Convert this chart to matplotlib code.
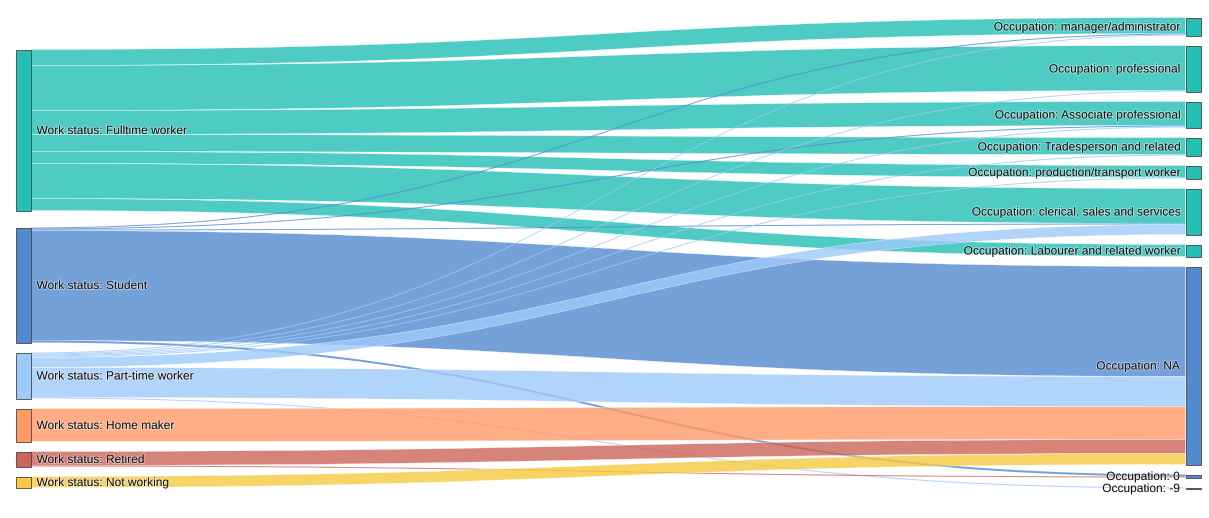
import matplotlib.pyplot as plt
from matplotlib.path import Path
from matplotlib.patches import PathPatch, Rectangle
import matplotlib.patheffects as pe

# nodes
left_nodes = ["Work status: Fulltime worker", "Work status: Student",
              "Work status: Part-time worker", "Work status: Home maker",
              "Work status: Retired", "Work status: Not working"]
right_nodes = ["Occupation: manager/administrator", "Occupation: professional",
               "Occupation: Associate professional", "Occupation: Tradesperson and related",
               "Occupation: production/transport worker", "Occupation: clerical, sales and services",
               "Occupation: Labourer and related worker", "Occupation: NA",
               "Occupation: 0", "Occupation: -9"]

# links: source index, target index, value
link_src = [0, 0, 0, 0, 0, 0, 0,
            1, 1, 1, 1, 1,
            2, 2, 2, 2, 2, 2, 2, 2,
            3,
            4, 4,
            5]
link_tgt = [0, 1, 2, 3, 4, 5, 6,
            0, 2, 5, 7, 8,
            0, 1, 2, 3, 4, 5, 7, 9,
            7,
            7, 8,
            7]
link_val = [16, 45, 24, 17, 12, 35, 12,
            1, 1, 1, 110, 2,
            1, 1, 1, 1, 1, 10, 30, 1,
            33,
            14, 1,
            11]

left_colors = ["#22c0b5", "#518acf", "#9ecafa", "#ff9966", "#cc6459", "#f5ca40"]
right_colors = ["#22c0b5"] * 7 + ["#518acf", "#518acf", "#5b7bb0"]

W, H = 1209, 518
node_w = 15
x_left, x_right = 15.5, 1185.5
top_right, bottom = 17.5, 488.5
pad = 10
left_top = 49.5
left_gaps = [17, 10, 10, 10, 10]

right_tot = [0] * len(right_nodes)
left_tot = [0] * len(left_nodes)
for s, t, v in zip(link_src, link_tgt, link_val):
    left_tot[s] += v
    right_tot[t] += v

ky = (bottom - top_right - pad * (len(right_nodes) - 1)) / sum(right_tot)

# node positions
right_y = []
y = top_right
for v in right_tot:
    right_y.append(y)
    y += v * ky + pad
left_y = []
y = left_top
for i, v in enumerate(left_tot):
    left_y.append(y)
    if i < len(left_gaps):
        y += v * ky + left_gaps[i]

fig = plt.figure(figsize=(W / 100, H / 100), dpi=100)
ax = fig.add_axes([0, 0, 1, 1])
ax.set_xlim(0, W)
ax.set_ylim(H, 0)
ax.axis("off")

# link offsets: at source sorted by target, at target sorted by source
order = sorted(range(len(link_val)), key=lambda k: (link_src[k], link_tgt[k]))
src_off = list(left_y)
s_pos = {}
for k in order:
    s_pos[k] = src_off[link_src[k]]
    src_off[link_src[k]] += link_val[k] * ky
order_t = sorted(range(len(link_val)), key=lambda k: (link_tgt[k], link_src[k]))
tgt_off = list(right_y)
t_pos = {}
for k in order_t:
    t_pos[k] = tgt_off[link_tgt[k]]
    tgt_off[link_tgt[k]] += link_val[k] * ky

xs = x_left + node_w
xt = x_right
xm = (xs + xt) / 2
codes = [Path.MOVETO, Path.CURVE4, Path.CURVE4, Path.CURVE4, Path.LINETO,
         Path.CURVE4, Path.CURVE4, Path.CURVE4, Path.CLOSEPOLY]
for k in range(len(link_val)):
    h = link_val[k] * ky
    ys0, ys1 = s_pos[k], s_pos[k] + h
    yt0, yt1 = t_pos[k], t_pos[k] + h
    verts = [(xs, ys0), (xm, ys0), (xm, yt0), (xt, yt0), (xt, yt1),
             (xm, yt1), (xm, ys1), (xs, ys1), (xs, ys0)]
    if h > 3:
        ec, lw = (1, 1, 1, 0.25), 0.3
    else:
        ec, lw = "none", 0
    ax.add_patch(PathPatch(Path(verts, codes), facecolor=left_colors[link_src[k]],
                           alpha=0.8, edgecolor=ec, lw=lw))

txt_fx = [pe.withStroke(linewidth=1.2, foreground="white", alpha=0.5)]
dy = 1  # labels sit a touch below the node centre

for i, name in enumerate(left_nodes):
    h = max(left_tot[i] * ky, 1)
    ax.add_patch(Rectangle((x_left, left_y[i]), node_w, h, facecolor=left_colors[i],
                           edgecolor="#444444", lw=0.6))
    ax.text(x_left + node_w + 6, left_y[i] + h / 2 + dy, name, ha="left", va="center",
            fontsize=8.6, family="Liberation Sans", color="#111111", path_effects=txt_fx)

for i, name in enumerate(right_nodes):
    h = max(right_tot[i] * ky, 1)
    ax.add_patch(Rectangle((x_right, right_y[i]), node_w, h, facecolor=right_colors[i],
                           edgecolor="#444444", lw=0.6))
    ax.text(x_right - 6, right_y[i] + h / 2 + dy, name, ha="right", va="center",
            fontsize=8.6, family="Liberation Sans", color="#111111", path_effects=txt_fx)

fig.savefig("out.png", dpi=100)
